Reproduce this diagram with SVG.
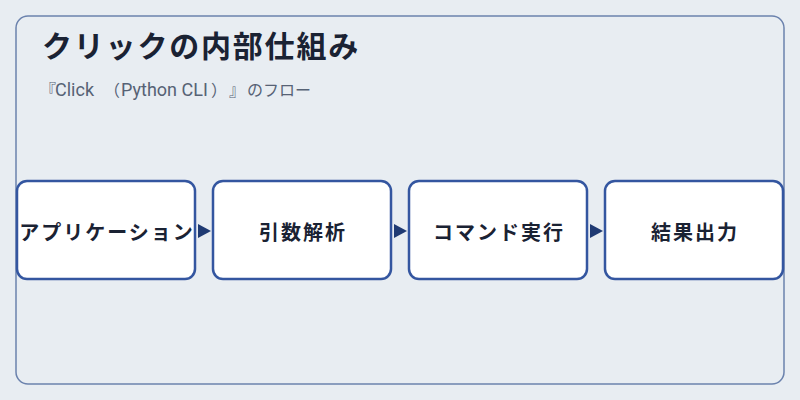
<svg xmlns="http://www.w3.org/2000/svg" width="800" height="400" viewBox="0 0 800 400">
<defs>
<style>
.frame{fill:#e8edf2;stroke:#6b82ad;stroke-width:1.5}
.box{fill:#ffffff;stroke:#3456a0;stroke-width:2.5}
.lbl{font-family:"Noto Sans CJK JP","Noto Sans",sans-serif;font-size:20px;font-weight:bold;fill:#1a2233;text-anchor:middle;dominant-baseline:central;letter-spacing:2px}
.title{font-family:"Noto Sans CJK JP","Noto Sans",sans-serif;font-size:30px;font-weight:bold;fill:#1a2233}
.sub{font-family:Roboto,"Noto Sans CJK JP",sans-serif;font-size:18px;fill:#566275}
.cjk{font-family:"Noto Sans CJK JP",sans-serif;font-size:16px}
</style>
</defs>
<rect width="800" height="400" fill="#e8edf2"/>
<rect class="frame" x="16" y="16" width="768" height="368" rx="12"/>
<text class="title" x="42" y="57" letter-spacing="1.8">クリックの内部仕組み</text>
<text class="sub" y="96"><tspan class="cjk" x="40">『</tspan><tspan x="55">Click</tspan><tspan class="cjk" x="104">（</tspan><tspan x="121">Python CLI</tspan><tspan class="cjk" x="211">）</tspan><tspan class="cjk" x="229">』</tspan><tspan class="cjk" x="247">のフロー</tspan></text>
<g id="connectors">
<polygon points="198,224 211,231 198,238" fill="#1f3a73"/>
<polygon points="394,224 407,231 394,238" fill="#1f3a73"/>
<polygon points="590,224 603,231 590,238" fill="#1f3a73"/>
</g>
<g id="node1">
<rect class="box" x="17" y="181" width="178" height="98" rx="10"/>
<text class="lbl" x="107" y="231">アプリケーション</text>
</g>
<g id="node2">
<rect class="box" x="213" y="181" width="178" height="98" rx="10"/>
<text class="lbl" x="303" y="231">引数解析</text>
</g>
<g id="node3">
<rect class="box" x="409" y="181" width="178" height="98" rx="10"/>
<text class="lbl" x="499" y="231">コマンド実行</text>
</g>
<g id="node4">
<rect class="box" x="605" y="181" width="178" height="98" rx="10"/>
<text class="lbl" x="695" y="231">結果出力</text>
</g>
</svg>
